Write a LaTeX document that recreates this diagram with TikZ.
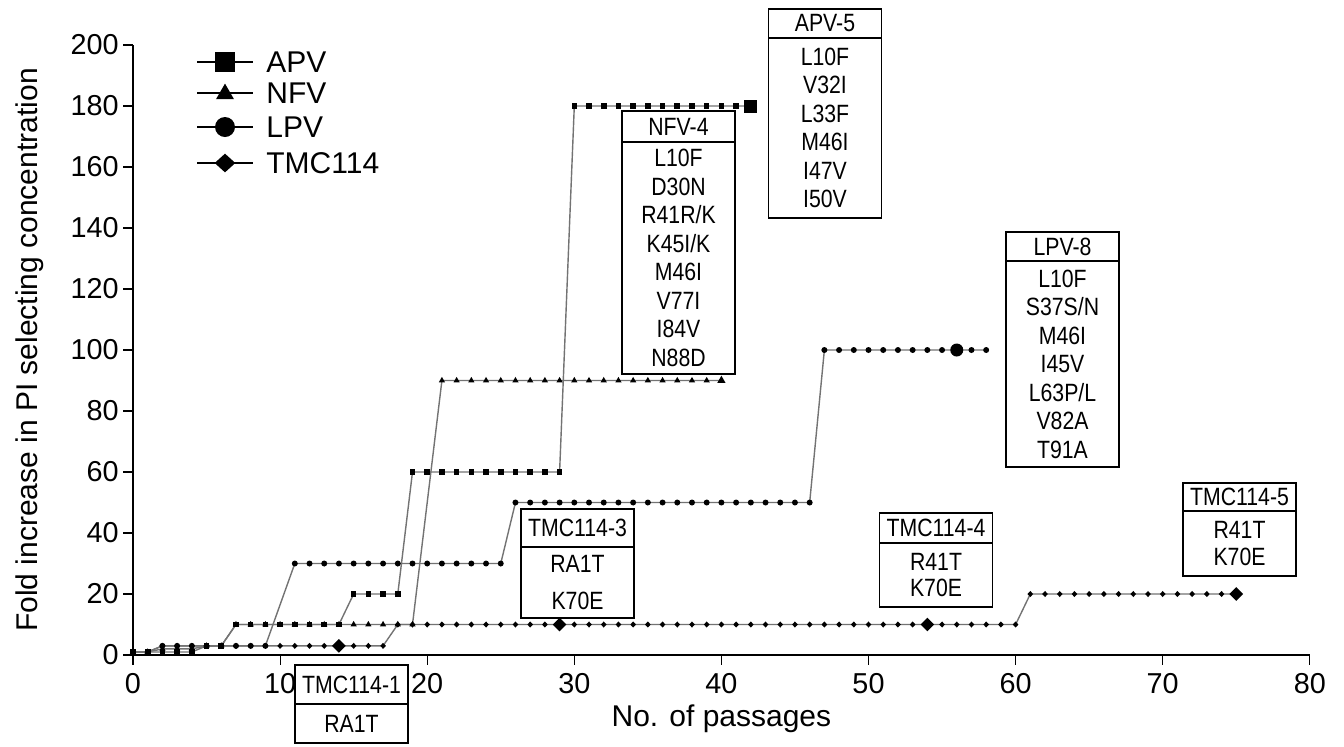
\documentclass[tikz,border=0pt]{standalone}
\usepackage{fontspec}
\setmainfont{Liberation Sans}
\newfontfamily\narrowfont[FakeStretch=0.85]{Liberation Sans}
\usetikzlibrary{positioning, calc, shapes.geometric}
\newcommand{\boxfont}{\narrowfont\fontsize{12.5}{14.25}\selectfont}

\tikzset{
	trace/.style={black!55, line width=0.7pt},
	sq/.style={rectangle, fill, inner sep=0pt, minimum size=2.8pt},
	dot/.style={circle, fill, inner sep=0pt, minimum size=3pt},
	dia/.style={diamond, fill, inner sep=0pt, minimum width=3pt, minimum height=3.2pt},
	tri/.style={regular polygon, regular polygon sides=3, fill, inner sep=0pt, minimum size=3.6pt},
	hdr/.style={draw, fill=white, line width=0.6pt, minimum width=56.5pt, inner sep=0pt, outer sep=0pt, font=\boxfont},
	mut/.style={hdr, align=center},
}

\begin{document}
\begin{tikzpicture}[x=0.5pt, y=-0.5pt]
					\useasboundingbox (0,0) rectangle (1344,746);
					
					\begin{scope}[shift={(133,655)}, x=7.355pt, y=1.525pt]
						\draw[line width=0.6pt] (0,200) -- (0,0) -- (80,0);
						\foreach \x in {0,10,...,80} {
							\draw[line width=0.6pt] (\x,0) -- ++(0,-5pt);
							\node[below=9pt, inner sep=0pt, font=\fontsize{14.4}{16}\selectfont] (xt\x) at (\x,0) {\x};
						}
						\foreach \y in {0,20,...,200} {
							\draw[line width=0.6pt] (0,\y) -- ++(-5pt,0);
							\node[left=7pt, inner sep=0pt, font=\fontsize{14.4}{16}\selectfont] (yt\y) at (0,\y) {\y};
						}
						\node[font=\fontsize{15}{17}\selectfont] (xlab) at (40,-21) {No. of passages};
						\node[rotate=90, font=\fontsize{15}{17}\selectfont] (ylab) at (-7.0,100) {Fold increase in PI selecting concentration};
						
						\draw[trace] (0,1) -- (4,1) -- (5,3) -- (6,3) -- (7,10) -- (14,10) -- (15,20) -- (18,20) -- (19,60) -- (29,60) -- (30,180) -- (42,180);
						\draw[trace] (0,1) -- (1,1) -- (2,2) -- (4,2) -- (5,3) -- (6,3) -- (7,10) -- (19,10) -- (21,90) -- (40,90);
						\draw[trace] (0,1) -- (1,1) -- (2,3) -- (9,3) -- (11,30) -- (25,30) -- (26,50) -- (46,50) -- (47,100) -- (58,100);
						\draw[trace] (0,1) -- (1,1) -- (2,3) -- (17,3) -- (18,10) -- (60,10) -- (61,20) -- (75,20);
						
						\foreach \a/\b/\y in {0/1/1, 2/4/2, 5/6/3, 7/19/10, 21/39/90}
							\foreach \x in {\a,...,\b} \node[tri] (nfv\x) at (\x,\y) {};
						\foreach \a/\b/\y in {0/1/1, 2/13/3, 15/17/3, 18/28/10, 30/53/10, 55/60/10, 61/74/20}
							\foreach \x in {\a,...,\b} \node[dia] (tmc\x) at (\x,\y) {};
						\foreach \a/\b/\y in {0/1/1, 2/9/3, 11/25/30, 26/46/50, 47/55/100, 57/58/100}
							\foreach \x in {\a,...,\b} \node[dot] (lpv\x) at (\x,\y) {};
						\foreach \a/\b/\y in {0/4/1, 5/6/3, 7/14/10, 15/18/20, 19/29/60, 30/41/180}
							\foreach \x in {\a,...,\b} \node[sq] (apv\x) at (\x,\y) {};
						
						\node[sq, minimum size=6.5pt] (apvend) at (42,180) {};
						\node[tri, minimum size=4.8pt] (nfvend) at (40,90) {};
						\node[dot, minimum size=6.5pt] (lpvend) at (56,100) {};
						\node[dia, minimum width=7pt, minimum height=7pt] (tmcone) at (14,3) {};
						\node[dia, minimum width=7pt, minimum height=7pt] (tmcthree) at (29,10) {};
						\node[dia, minimum width=7pt, minimum height=7pt] (tmcfour) at (54,10) {};
						\node[dia, minimum width=7pt, minimum height=7pt] (tmcfive) at (75,20) {};
					\end{scope}
					
					\draw[line width=0.6pt] (197,62) -- (253,62);
					\draw[line width=0.6pt] (197,93) -- (253,93);
					\draw[line width=0.6pt] (197,127) -- (253,127);
					\draw[line width=0.6pt] (197,163) -- (253,163);
					\node[sq, minimum size=10pt] (lgapv) at (225,62) {};
					\node[tri, minimum size=10.4pt] (lgnfv) at (225,94) {};
					\node[dot, minimum size=10pt] (lglpv) at (225,127) {};
					\node[dia, minimum width=10.5pt, minimum height=9.5pt] (lgtmc) at (225,163) {};
					\node[anchor=west, inner sep=0pt, font=\fontsize{15}{17}\selectfont] (lapv) at (266,62) {APV};
					\node[anchor=west, inner sep=0pt, font=\fontsize{15}{17}\selectfont] (lnfv) at (266,93) {NFV};
					\node[anchor=west, inner sep=0pt, font=\fontsize{15}{17}\selectfont] (llpv) at (266,127) {LPV};
					\node[anchor=west, inner sep=0pt, font=\fontsize{15}{17}\selectfont] (ltmc) at (266,163) {TMC114};
					
					\node[hdr, minimum height=14.5pt] (apvh) at (825,23.5) {APV-5};
					\node[mut, minimum height=90pt, below=0pt of apvh] (apvb) {L10F\\V32I\\L33F\\M46I\\I47V\\I50V};
					
					\node[hdr, minimum height=15.5pt] (nfvh) at (678.5,126.5) {NFV-4};
					\node[mut, minimum height=116pt, below=0pt of nfvh] (nfvb) {L10F\\D30N\\R41R/K\\K45I/K\\M46I\\V77I\\I84V\\N88D};
					
					\node[hdr, minimum height=14.5pt] (lpvh) at (1062.5,246.5) {LPV-8};
					\node[mut, minimum height=103pt, below=0pt of lpvh] (lpvb) {L10F\\S37S/N\\M46I\\I45V\\L63P/L\\V82A\\T91A};
					
					\node[hdr, minimum height=19pt] (tmc3h) at (577.5,528) {TMC114-3};
					\node[mut, minimum height=35.5pt, below=0pt of tmc3h] (tmc3b) {RA1T\\[4.25pt]K70E};
					
					\node[hdr, minimum height=15pt] (tmc4h) at (936,528) {TMC114-4};
					\node[mut, minimum height=32pt, below=0pt of tmc4h] (tmc4b) {R41T\\[-1.25pt]K70E};
					
					\node[hdr, minimum height=14pt] (tmc5h) at (1239.5,497) {TMC114-5};
					\node[mut, minimum height=32.5pt, below=0pt of tmc5h] (tmc5b) {R41T\\[-0.75pt]K70E};
					
					\node[hdr, fill=none, minimum height=19.5pt] (tmc1h) at (351.5,684.5) {TMC114-1};
					\node[mut, fill=none, minimum height=19.5pt, below=0pt of tmc1h] (tmc1b) {RA1T};
				\end{tikzpicture}
\end{document}
